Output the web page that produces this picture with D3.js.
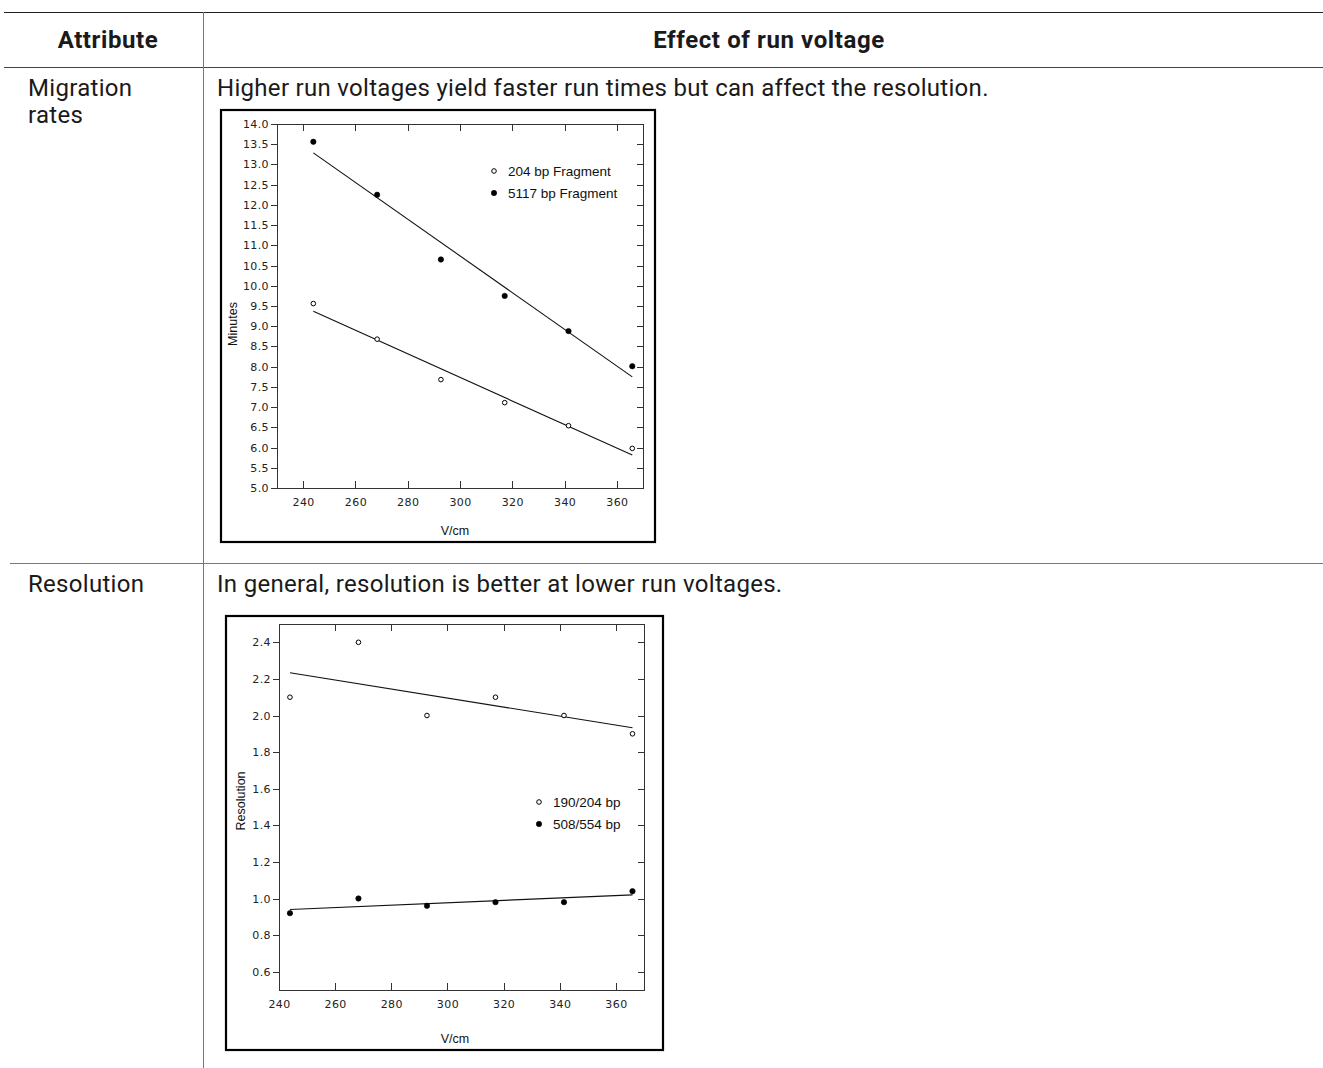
<!DOCTYPE html>
<html>
<head>
<meta charset="utf-8">
<script src="https://cdn.jsdelivr.net/npm/d3@7"></script>
<style>
  body { margin: 0; background: #fff; }
  .cell { font-family: Roboto, "Noto Sans", sans-serif; font-size: 24px; fill: #1a1a1a; letter-spacing: 0.3px; }
  .head { font-weight: bold; letter-spacing: 0.6px; }
  .tick text { font-family: "DejaVu Sans", sans-serif; font-size: 11px; fill: #222; }
  .axis path, .axis line { stroke: #333; shape-rendering: crispEdges; }
  .lbl { font-family: "Liberation Sans Narrow", "Arial Narrow", "Liberation Sans", sans-serif; font-size: 12.5px; fill: #111; }
  .leg { font-size: 13.5px; }
</style>
</head>
<body>
<svg id="page" width="1323" height="1068"></svg>
<script>
// ----- data -----
const voltages = [243.9, 268.3, 292.7, 317.1, 341.5, 365.9];

// migration times (minutes)
const min204 = [9.56, 8.68, 7.68, 7.11, 6.54, 5.98];
const min5117 = [13.56, 12.25, 10.65, 9.75, 8.88, 8.01];

// resolution
const res190 = [2.1, 2.4, 2.0, 2.1, 2.0, 1.9];
const res508 = [0.92, 1.0, 0.96, 0.98, 0.98, 1.04];

const xTicks = [240, 260, 280, 300, 320, 340, 360];
const minuteTicks = [5.0, 5.5, 6.0, 6.5, 7.0, 7.5, 8.0, 8.5, 9.0, 9.5, 10.0, 10.5, 11.0, 11.5, 12.0, 12.5, 13.0, 13.5, 14.0];
const resTicks = [0.6, 0.8, 1.0, 1.2, 1.4, 1.6, 1.8, 2.0, 2.2, 2.4];

const tableHead = ["Attribute", "Effect of run voltage"];
const rowNames = [["Migration", "rates"], ["Resolution"]];
const rowText = [
  "Higher run voltages yield faster run times but can affect the resolution.",
  "In general, resolution is better at lower run voltages."
];
const legend1 = ["204 bp Fragment", "5117 bp Fragment"];
const legend2 = ["190/204 bp", "508/554 bp"];

const svg = d3.select("svg#page");

// ----- table -----
svg.append("line").attr("x1", 4).attr("x2", 1323).attr("y1", 12.5).attr("y2", 12.5)
  .attr("stroke", "#222");
svg.append("line").attr("x1", 4).attr("x2", 1323).attr("y1", 67.5).attr("y2", 67.5)
  .attr("stroke", "#444");
svg.append("line").attr("x1", 10).attr("x2", 1323).attr("y1", 563.5).attr("y2", 563.5)
  .attr("stroke", "#777");
svg.append("line").attr("x1", 203.5).attr("x2", 203.5).attr("y1", 12).attr("y2", 1068)
  .attr("stroke", "#777");

svg.append("text").attr("class", "cell head").attr("x", 108).attr("y", 48)
  .attr("text-anchor", "middle").text(tableHead[0]);
svg.append("text").attr("class", "cell head").attr("x", 769).attr("y", 48)
  .attr("text-anchor", "middle").text(tableHead[1]);

const rowY = [96, 592];
rowNames.forEach((lines, i) => {
  lines.forEach((t, j) => {
    svg.append("text").attr("class", "cell").attr("x", 28).attr("y", rowY[i] + j * 27).text(t);
  });
  svg.append("text").attr("class", "cell").attr("x", 217).attr("y", rowY[i]).text(rowText[i]);
});

// least squares fit through a series
function fit(xs, ys) {
  const mx = d3.mean(xs), my = d3.mean(ys);
  const sxy = d3.sum(xs, (x, i) => (x - mx) * (ys[i] - my));
  const sxx = d3.sum(xs, (x) => (x - mx) * (x - mx));
  const b = sxy / sxx;
  return (x) => my + b * (x - mx);
}

function drawChart(opt) {
  const g = svg.append("g");

  // outer box
  g.append("rect")
    .attr("x", opt.box[0]).attr("y", opt.box[1])
    .attr("width", opt.box[2]).attr("height", opt.box[3])
    .attr("fill", "none").attr("stroke", "#000").attr("stroke-width", 2.2);

  const x = d3.scaleLinear().domain(opt.xDomain).range([opt.left, opt.right]);
  const y = d3.scaleLinear().domain(opt.yDomain).range([opt.bottom, opt.top]);

  g.append("rect")
    .attr("x", opt.left).attr("y", opt.top)
    .attr("width", opt.right - opt.left).attr("height", opt.bottom - opt.top)
    .attr("fill", "none").attr("stroke", "#333").attr("shape-rendering", "crispEdges");

  // left: outward ticks with labels
  g.append("g").attr("class", "axis").attr("transform", `translate(${opt.left},0)`)
    .call(d3.axisLeft(y).tickValues(opt.yTicks).tickSize(6).tickSizeOuter(0)
      .tickPadding(2).tickFormat(d3.format(".1f")));
  // right: inward ticks
  g.append("g").attr("class", "axis").attr("transform", `translate(${opt.right},0)`)
    .call(d3.axisLeft(y).tickValues(opt.yTicks).tickSize(6).tickSizeOuter(0).tickFormat(""))
    .selectAll("line").attr("x2", -6);
  // bottom: inward ticks, labels below
  g.append("g").attr("class", "axis").attr("transform", `translate(0,${opt.bottom})`)
    .call(d3.axisBottom(x).tickValues(xTicks).tickSize(-7).tickSizeOuter(0).tickPadding(10));
  // top: inward ticks
  g.append("g").attr("class", "axis").attr("transform", `translate(0,${opt.top})`)
    .call(d3.axisTop(x).tickValues(xTicks).tickSize(-7).tickSizeOuter(0).tickFormat(""));

  g.selectAll(".axis .domain").remove();
  g.selectAll(".tick text").attr("letter-spacing", "0.4px");

  // axis titles
  g.append("text").attr("class", "lbl").attr("text-anchor", "middle")
    .attr("x", opt.xTitle[0]).attr("y", opt.xTitle[1]).text("V/cm");
  g.append("text").attr("class", "lbl").attr("text-anchor", "middle")
    .attr("transform", `translate(${opt.yTitle[0]},${opt.yTitle[1]}) rotate(-90)`)
    .text(opt.yLabel);

  // series: fitted line + points
  opt.series.forEach((s) => {
    const f = fit(voltages, s.values);
    const ends = d3.extent(voltages);
    g.append("line")
      .attr("x1", x(ends[0])).attr("y1", y(f(ends[0])))
      .attr("x2", x(ends[1])).attr("y2", y(f(ends[1])))
      .attr("stroke", "#111").attr("stroke-width", 1.1);

    g.selectAll(null)
      .data(s.values)
      .join("circle")
      .attr("cx", (d, i) => x(voltages[i]))
      .attr("cy", (d) => y(d))
      .attr("r", s.filled ? 2.7 : 2.3)
      .attr("fill", s.filled ? "#000" : "#fff")
      .attr("stroke", "#000")
      .attr("stroke-width", s.filled ? 0.6 : 1);
  });

  // legend
  opt.series.forEach((s, i) => {
    const ly = opt.legend[1] + i * opt.legendGap;
    g.append("circle").attr("cx", opt.legend[0]).attr("cy", ly)
      .attr("r", s.filled ? 2.7 : 2.3)
      .attr("fill", s.filled ? "#000" : "#fff")
      .attr("stroke", "#000").attr("stroke-width", s.filled ? 0.6 : 1);
    g.append("text").attr("class", "lbl leg").attr("x", opt.legend[0] + 14)
      .attr("y", ly).attr("dy", "0.35em").text(s.name);
  });
}

drawChart({
  box: [221, 110, 434, 432],
  left: 277, right: 643, top: 124, bottom: 488,
  xDomain: [230, 370], yDomain: [5, 14],
  yTicks: minuteTicks,
  yLabel: "Minutes",
  xTitle: [455, 535], yTitle: [237, 324],
  legend: [494, 171], legendGap: 22,
  series: [
    { name: legend1[0], values: min204, filled: false },
    { name: legend1[1], values: min5117, filled: true }
  ]
});

drawChart({
  box: [226, 616, 437, 434],
  left: 279, right: 644, top: 624, bottom: 990,
  xDomain: [240, 370], yDomain: [0.5, 2.5],
  yTicks: resTicks,
  yLabel: "Resolution",
  xTitle: [455, 1043], yTitle: [245, 801],
  legend: [539, 802], legendGap: 22,
  series: [
    { name: legend2[0], values: res190, filled: false },
    { name: legend2[1], values: res508, filled: true }
  ]
});
</script>
</body>
</html>
